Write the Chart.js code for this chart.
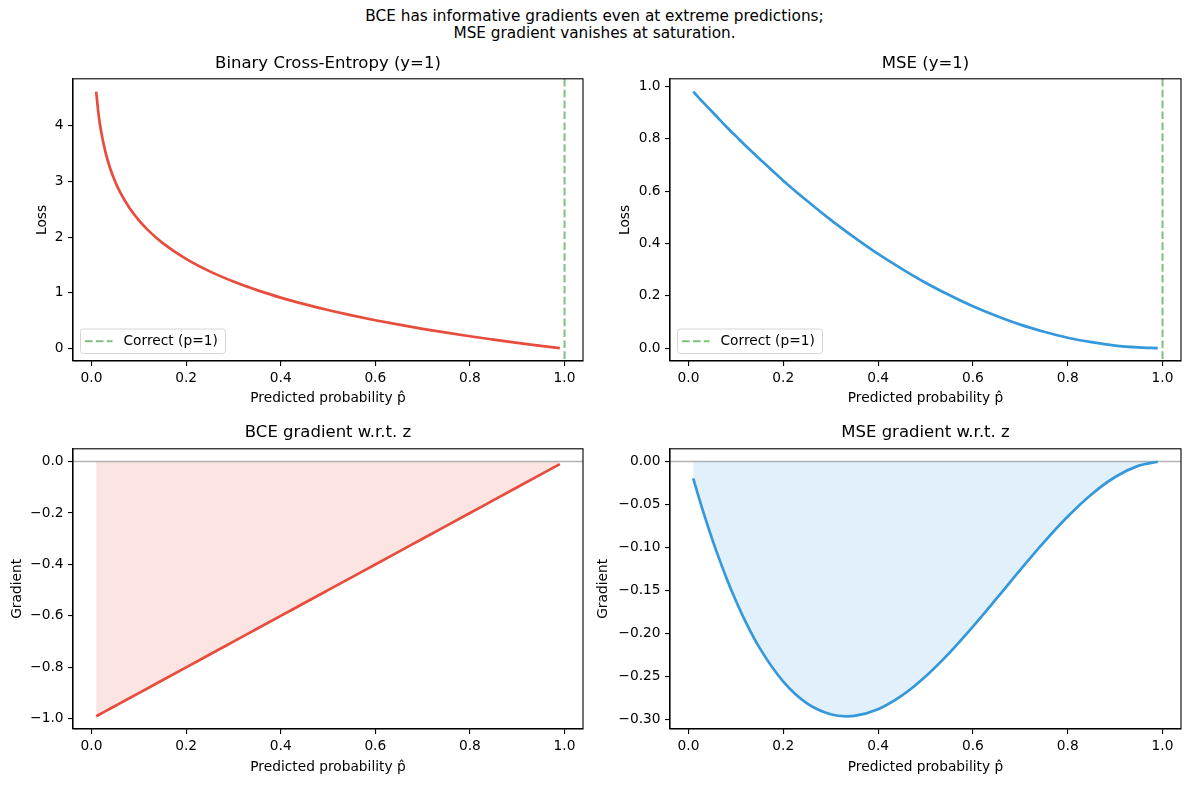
<!DOCTYPE html>
<html><head><meta charset="utf-8">
<script src="https://cdn.jsdelivr.net/npm/chart.js@4.4.0/dist/chart.umd.min.js"></script>
<style>
html,body{margin:0;padding:0;background:#fff;width:1189px;height:789px;overflow:hidden;position:relative;}
#sup{position:absolute;left:0;top:8px;width:1189px;text-align:center;font-family:'DejaVu Sans',sans-serif;font-size:15.3px;line-height:17px;color:#000;}
canvas{position:absolute;}
</style></head><body>
<div id="sup"></div>
<canvas id="c0"></canvas>
<canvas id="c1"></canvas>
<canvas id="c2"></canvas>
<canvas id="c3"></canvas>
<script>
// ---------------- data ----------------
const P_HAT     = [0.01,0.015,0.02,0.03,0.04,0.05,0.06,0.08,0.10,0.12,0.15,0.20,0.25,0.30,0.333,0.35,0.40,0.45,0.50,0.55,0.60,0.65,0.70,0.75,0.80,0.85,0.90,0.95,0.99];
const BCE_LOSS  = [4.605,4.200,3.912,3.507,3.219,2.996,2.813,2.526,2.303,2.120,1.897,1.609,1.386,1.204,1.100,1.050,0.916,0.799,0.693,0.598,0.511,0.431,0.357,0.288,0.223,0.163,0.105,0.051,0.010];
const MSE_LOSS  = [0.980,0.970,0.960,0.941,0.922,0.903,0.884,0.846,0.810,0.774,0.723,0.640,0.563,0.490,0.445,0.423,0.360,0.303,0.250,0.203,0.160,0.123,0.090,0.063,0.040,0.023,0.010,0.003,0.000];
const BCE_GRAD  = [-0.99,-0.985,-0.98,-0.97,-0.96,-0.95,-0.94,-0.92,-0.90,-0.88,-0.85,-0.80,-0.75,-0.70,-0.667,-0.65,-0.60,-0.55,-0.50,-0.45,-0.40,-0.35,-0.30,-0.25,-0.20,-0.15,-0.10,-0.05,-0.01];
const MSE_GRAD  = [-0.0196,-0.0290,-0.0384,-0.0565,-0.0737,-0.0903,-0.1060,-0.1354,-0.1620,-0.1859,-0.2168,-0.2560,-0.2813,-0.2940,-0.2963,-0.2958,-0.2880,-0.2723,-0.2500,-0.2228,-0.1920,-0.1593,-0.1260,-0.0938,-0.0640,-0.0383,-0.0180,-0.0048,-0.0002];

const X_TICKS         = [0, 0.2, 0.4, 0.6, 0.8, 1.0];
const BCE_LOSS_TICKS  = [0, 1, 2, 3, 4];
const MSE_LOSS_TICKS  = [0, 0.2, 0.4, 0.6, 0.8, 1.0];
const BCE_GRAD_TICKS  = [-1.0, -0.8, -0.6, -0.4, -0.2, 0.0];
const MSE_GRAD_TICKS  = [-0.30, -0.25, -0.20, -0.15, -0.10, -0.05, 0.00];

const REF_P = 1.0;          // "Correct (p=1)" reference line
const ZERO  = 0;            // gradient baseline
const SUPTITLE = ['BCE has informative gradients even at extreme predictions;', 'MSE gradient vanishes at saturation.'];
const TITLES = ['Binary Cross-Entropy (y=1)', 'MSE (y=1)', 'BCE gradient w.r.t. z', 'MSE gradient w.r.t. z'];
const X_LABEL = 'Predicted probability p\u0302';
const LEGEND_LABEL = 'Correct (p=1)';

// ---------------- styling ----------------
const FONT = "'DejaVu Sans', sans-serif";
const RED = '#e74c3c', BLUE = '#3498db';
const RED_FILL = 'rgba(231,76,60,0.15)', BLUE_FILL = 'rgba(52,152,219,0.15)';
const GREEN_REF = 'rgba(0,128,0,0.5)';

document.getElementById('sup').innerHTML = SUPTITLE.join('<br>');

function pts(ys) { return P_HAT.map((x, i) => ({ x: x, y: ys[i] })); }
function fmt(v, d) { const s = Math.abs(v).toFixed(d); return (v < -1e-9 ? '\u2212' : '') + s; }

const refPlugin = {
  id: 'refLines',
  afterDatasetDraw(chart, args, opts) {
    if (opts.hline === undefined || args.index !== 1) return;
    const { ctx, chartArea: a, scales } = chart;
    const y = scales.y.getPixelForValue(opts.hline);
    ctx.save();
    ctx.strokeStyle = 'rgba(128,128,128,0.6)';
    ctx.lineWidth = 1.6;
    ctx.beginPath(); ctx.moveTo(a.left, y); ctx.lineTo(a.right, y); ctx.stroke();
    ctx.restore();
  },
  afterDatasetsDraw(chart, args, opts) {
    const { ctx, chartArea: a, scales } = chart;
    ctx.save();
    if (opts.vline !== undefined) {
      const x = scales.x.getPixelForValue(opts.vline);
      ctx.strokeStyle = GREEN_REF;
      ctx.lineWidth = 2;
      ctx.setLineDash([7.6, 3.3]);
      ctx.beginPath(); ctx.moveTo(x, a.top); ctx.lineTo(x, a.bottom); ctx.stroke();
      ctx.setLineDash([]);
    }
    ctx.strokeStyle = '#000';
    ctx.lineWidth = 1.1;
    ctx.strokeRect(a.left, a.top, a.right - a.left, a.bottom - a.top);
    ctx.restore();
  },
  afterDraw(chart, args, opts) {
    if (!opts.legend) return;
    const { ctx, chartArea: a } = chart;
    const w = 145, h = 24.5;
    const x0 = a.left + 7.5, y0 = a.bottom - 7.5 - h;
    ctx.save();
    ctx.beginPath();
    if (ctx.roundRect) ctx.roundRect(x0, y0, w, h, 3); else ctx.rect(x0, y0, w, h);
    ctx.fillStyle = 'rgba(255,255,255,0.8)';
    ctx.fill();
    ctx.strokeStyle = '#d6d6d6';
    ctx.lineWidth = 1;
    ctx.stroke();
    const cy = y0 + h / 2;
    ctx.strokeStyle = GREEN_REF;
    ctx.lineWidth = 2;
    ctx.setLineDash([7.6, 3.3]);
    ctx.beginPath(); ctx.moveTo(x0 + 4.5, cy); ctx.lineTo(x0 + 32, cy); ctx.stroke();
    ctx.setLineDash([]);
    ctx.fillStyle = '#000';
    ctx.font = '13.75px ' + FONT;
    ctx.textBaseline = 'middle';
    ctx.textAlign = 'left';
    ctx.fillText(opts.legend, x0 + 43, cy + 0.5);
    ctx.restore();
  }
};

function axisCommon() {
  return {
    type: 'linear',
    grid: { display: true, drawOnChartArea: false, drawTicks: true, tickLength: 5, color: '#000', lineWidth: 1.1 },
    border: { display: true, color: '#000', width: 1.1 },
  };
}

function makePanel(p) {
  const cv = document.getElementById(p.id);
  cv.width = p.width; cv.height = p.height;
  cv.style.left = p.left + 'px'; cv.style.top = p.top + 'px';
  cv.style.width = p.width + 'px'; cv.style.height = p.height + 'px';

  const datasets = [{
    data: pts(p.values), borderColor: p.color, borderWidth: 2.7, pointRadius: 0,
    cubicInterpolationMode: 'monotone', fill: false
  }];
  if (p.fillColor) {
    datasets.push({
      data: pts(p.values), borderColor: 'rgba(0,0,0,0)', borderWidth: 0.01, pointRadius: 0,
      cubicInterpolationMode: 'monotone', fill: 'origin', backgroundColor: p.fillColor
    });
  }
  const x = Object.assign(axisCommon(), {
    min: -0.039, max: 1.039,
    afterBuildTicks: s => { s.ticks = X_TICKS.map(v => ({ value: v })); },
    ticks: { callback: v => fmt(v, 1), font: { family: FONT, size: 13.75 }, color: '#000', padding: 4, maxRotation: 0, autoSkip: false },
    title: { display: true, text: X_LABEL, font: { family: FONT, size: 13.75 }, color: '#000', padding: 0 },
    afterFit: s => { s.height = p.xH; }
  });
  const y = Object.assign(axisCommon(), {
    min: p.yMin, max: p.yMax,
    afterBuildTicks: s => { s.ticks = p.yTicks.map(v => ({ value: v })); },
    ticks: { callback: v => fmt(v, p.yDec), font: { family: FONT, size: 13.75 }, color: '#000', padding: 4.5, autoSkip: false },
    title: { display: true, text: p.yTitle, font: { family: FONT, size: 13.75 }, color: '#000', padding: 0 },
    afterFit: s => { s.width = p.yW; }
  });
  new Chart(cv, {
    type: 'line',
    data: { datasets: datasets },
    options: {
      responsive: false, animation: false, devicePixelRatio: window.devicePixelRatio || 1,
      layout: { padding: { left: 0, right: 4, top: 0, bottom: 0 } },
      scales: { x: x, y: y },
      plugins: {
        legend: { display: false }, tooltip: { enabled: false },
        title: { display: true, fullSize: false, text: p.title, font: { family: FONT, size: 16.5, weight: 'normal' }, color: '#000', padding: { top: 0, bottom: p.titlePadB } },
        refLines: { vline: p.vline, hline: p.hline, legend: p.legend }
      }
    },
    plugins: [refPlugin]
  });
}

makePanel({ id: 'c0', left: 34, top: 54, width: 553, height: 353, yW: 39, xH: 46, titlePadB: 5,
  title: TITLES[0], yTitle: 'Loss', values: BCE_LOSS, color: RED, yMin: -0.2197, yMax: 4.835,
  yTicks: BCE_LOSS_TICKS, yDec: 0, vline: REF_P, legend: LEGEND_LABEL });
makePanel({ id: 'c1', left: 617, top: 54, width: 568, height: 353, yW: 53, xH: 46, titlePadB: 5,
  title: TITLES[1], yTitle: 'Loss', values: MSE_LOSS, color: BLUE, yMin: -0.0489, yMax: 1.029,
  yTicks: MSE_LOSS_TICKS, yDec: 1, vline: REF_P, legend: LEGEND_LABEL });
makePanel({ id: 'c2', left: 9, top: 423, width: 578, height: 353, yW: 64, xH: 47, titlePadB: 6,
  title: TITLES[2], yTitle: 'Gradient', values: BCE_GRAD, color: RED, fillColor: RED_FILL,
  yMin: -1.0395, yMax: 0.0495, yTicks: BCE_GRAD_TICKS, yDec: 1, hline: ZERO });
makePanel({ id: 'c3', left: 595, top: 423, width: 590, height: 353, yW: 75, xH: 47, titlePadB: 6,
  title: TITLES[3], yTitle: 'Gradient', values: MSE_GRAD, color: BLUE, fillColor: BLUE_FILL,
  yMin: -0.3111, yMax: 0.0148, yTicks: MSE_GRAD_TICKS, yDec: 2, hline: ZERO });
</script>
</body></html>
